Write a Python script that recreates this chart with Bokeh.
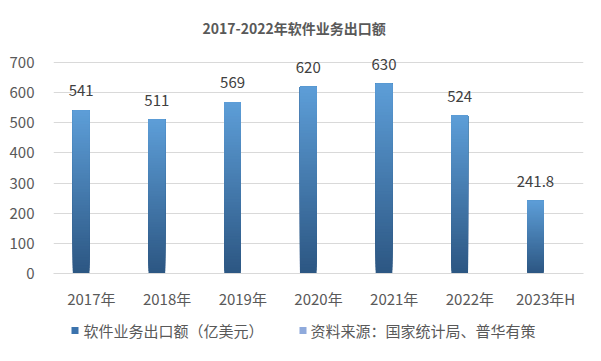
from bokeh.plotting import figure
from bokeh.layouts import column
from bokeh.models import ColumnDataSource, FixedTicker, Range1d, FactorRange
from bokeh.transform import dodge
from bokeh.core.properties import value
from bokeh.embed import file_html
from bokeh.resources import INLINE

title_text = "2017-2022年软件业务出口额"
categories = ["2017年", "2018年", "2019年", "2020年", "2021年", "2022年", "2023年H"]
export_values = [541, 511, 569, 620, 630, 524, 241.8]
value_labels = ["541", "511", "569", "620", "630", "524", "241.8"]
y_ticks = [0, 100, 200, 300, 400, 500, 600, 700]
legend_labels = ["软件业务出口额（亿美元）", "资料来源：国家统计局、普华有策"]
legend_colors = ["#3b73ad", "#8faadc"]

FONT = "Noto Sans CJK SC"
W = 585
H_MAIN = 317
H_LEG = 28
LEFT, RIGHT = 53, 2

p = figure(width=W, height=H_MAIN, x_range=FactorRange(*categories), y_range=Range1d(0, 730),
           output_backend="svg", toolbar_location=None,
           min_border_left=LEFT, min_border_right=RIGHT, min_border_top=50, min_border_bottom=44)
p.outline_line_color = None
p.background_fill_color = "white"
p.border_fill_color = "white"

# title
p.title.text = title_text
p.title.align = "left"
p.title.offset = 149
p.title.standoff = 31
p.title.text_font = FONT
p.title.text_font_size = "14px"
p.title.text_font_style = "bold"
p.title.text_color = "#595959"

# gradient bars: each bar split into slices coloured from dark (bottom) to light (top);
# every slice runs up to the bar top, later (lighter) slices cover the upper part
top_rgb = (93, 158, 216)
bot_rgb = (44, 86, 130)
N = 60
xs, bottoms, tops, colors = [], [], [], []
for cat, v in zip(categories, export_values):
    for k in range(N):
        t = (k + 0.5) / N
        rgb = tuple(int(round(b + (a - b) * t)) for a, b in zip(top_rgb, bot_rgb))
        xs.append(cat)
        bottoms.append(v * k / N)
        tops.append(v)
        colors.append("#%02x%02x%02x" % rgb)
src = ColumnDataSource(dict(x=xs, bottom=bottoms, top=tops, color=colors))
p.vbar(x=dodge("x", -0.135, range=p.x_range), width=0.22, bottom="bottom", top="top",
       fill_color="color", line_color=None, source=src)

lab_src = ColumnDataSource(dict(x=categories, y=export_values, t=value_labels))
p.text(x=dodge("x", -0.135, range=p.x_range), y="y", text="t", source=lab_src,
       text_align="center", text_baseline="bottom", y_offset=-14,
       text_font=value(FONT), text_font_size="15px", text_color="#404040")

# axes
p.yaxis.ticker = FixedTicker(ticks=y_ticks)
p.yaxis.axis_line_color = None
p.yaxis.major_tick_line_color = None
p.yaxis.minor_tick_line_color = None
p.yaxis.major_label_standoff = 13
p.yaxis.major_label_text_font = FONT
p.yaxis.major_label_text_font_size = "15px"
p.yaxis.major_label_text_color = "#595959"

p.xaxis.axis_line_color = "#d9d9d9"
p.xaxis.major_tick_line_color = None
p.xaxis.minor_tick_line_color = None
p.xaxis.major_label_standoff = 8
p.xaxis.major_label_text_font = FONT
p.xaxis.major_label_text_font_size = "15px"
p.xaxis.major_label_text_color = "#595959"

p.xgrid.grid_line_color = None
p.ygrid.ticker = FixedTicker(ticks=y_ticks)
p.ygrid.grid_line_color = "#d9d9d9"

# legend strip (a small figure under the chart; its frame is aligned with the chart frame,
# so x is measured from the chart's left frame edge)
lg = figure(width=W, height=H_LEG, x_range=Range1d(0, W - LEFT - RIGHT), y_range=Range1d(0, H_LEG),
            output_backend="svg", toolbar_location=None,
            x_axis_location=None, y_axis_location=None,
            min_border_left=LEFT, min_border_right=RIGHT, min_border_top=0, min_border_bottom=0)
lg.outline_line_color = None
lg.grid.visible = False
lg.border_fill_color = "white"
lg.background_fill_color = "white"
swatch_x = [21.5, 249.5]
text_x = [30, 257]
row_y = 15
lg.rect(x=swatch_x, y=[row_y] * 2, width=7, height=7, fill_color=legend_colors, line_color=None)
lg.text(x=text_x, y=[row_y] * 2, text=legend_labels, text_align="left",
        text_baseline="middle", text_font=value(FONT), text_font_size="15px",
        text_color="#595959")

layout = column(p, lg, spacing=0)
open("out.html", "w").write(file_html(layout, INLINE))
